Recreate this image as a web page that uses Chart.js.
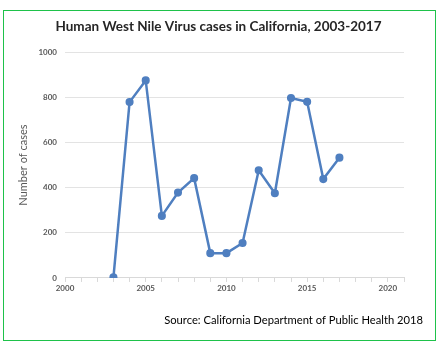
<!DOCTYPE html>
<html lang="en">
<head>
  <meta charset="UTF-8">
  <title>West Nile Virus Chart</title>
  <script src="https://cdn.jsdelivr.net/npm/chart.js"></script>
  <style>
    body {
      margin: 0;
      background: #fff;
    }
    #wrap {
      position: relative;
      width: 443px;
      height: 345px;
    }
    #frame {
      position: absolute;
      left: 3px;
      top: 10px;
      width: 431px;
      height: 329px;
      border: 1px solid #1ec24a;
      pointer-events: none;
    }
  </style>
</head>
<body>
  <div id="wrap">
    <canvas id="wnvChart" width="443" height="345"></canvas>
    <div id="frame"></div>
  </div>

  <script>
    const years = [2003, 2004, 2005, 2006, 2007, 2008, 2009, 2010, 2011, 2012, 2013, 2014, 2015, 2016, 2017];
    const cases = [3, 779, 875, 275, 378, 442, 110, 110, 155, 477, 375, 797, 780, 438, 533];
    const yTicks = [0, 200, 400, 600, 800, 1000];
    const xLabels = [2000, 2005, 2010, 2015, 2020];

    const points = years.map((y, i) => ({ x: y, y: cases[i] }));

    const tickFont = { family: 'Lato', size: 8, weight: 'bold' };

    new Chart(document.getElementById('wnvChart'), {
      type: 'scatter',
      data: {
        datasets: [{
          label: 'Cases',
          data: points,
          showLine: true,
          borderColor: '#4f7fc0',
          backgroundColor: '#4f7fc0',
          borderWidth: 2.5,
          pointRadius: 2.8,
          tension: 0,
          yAxisID: 'y'
        }]
      },
      options: {
        responsive: false,
        animation: false,
        layout: {
          padding: { left: 14, right: 20, top: 19, bottom: 18 }
        },
        plugins: {
          legend: { display: false },
          tooltip: { enabled: false },
          title: {
            display: true,
            text: 'Human West Nile Virus cases in California, 2003-2017',
            color: '#262626',
            font: { family: 'Lato', size: 13.5, weight: 'bold' },
            padding: { top: 0, bottom: 17 }
          },
          subtitle: {
            display: true,
            position: 'bottom',
            align: 'end',
            text: 'Source: California Department of Public Health 2018',
            color: '#000',
            font: { family: 'Lato', size: 11.2 },
            padding: { top: 18, bottom: 0 }
          }
        },
        scales: {
          x: {
            type: 'linear',
            min: 2000,
            max: 2021,
            grid: {
              drawOnChartArea: false,
              drawTicks: true,
              tickLength: 4,
              color: '#d9d9d9'
            },
            border: { color: '#d9d9d9' },
            ticks: {
              stepSize: 1,
              autoSkip: false,
              maxRotation: 0,
              color: '#595959',
              font: tickFont,
              padding: 2,
              callback: v => xLabels.includes(v) ? String(v) : ''
            }
          },
          y: {
            min: 0,
            max: 1000,
            grid: {
              color: '#e3e3e3',
              drawTicks: false
            },
            border: { display: false },
            afterBuildTicks: axis => {
              axis.ticks = yTicks.map(v => ({ value: v }));
            },
            afterFit: axis => {
              axis.width = 51;
            },
            ticks: {
              color: '#595959',
              font: tickFont,
              padding: 8,
              callback: v => String(v)
            },
            title: {
              display: true,
              text: 'Number of cases',
              color: '#595959',
              font: { family: 'Lato', size: 11 },
              padding: { top: 3, bottom: 6 }
            }
          },
          // empty right-hand axis, keeps the plot narrower than the source line
          yr: {
            position: 'right',
            display: true,
            grid: { display: false },
            border: { display: false },
            ticks: { display: false },
            afterFit: axis => {
              axis.width = 19;
            }
          }
        }
      }
    });
  </script>
</body>
</html>
